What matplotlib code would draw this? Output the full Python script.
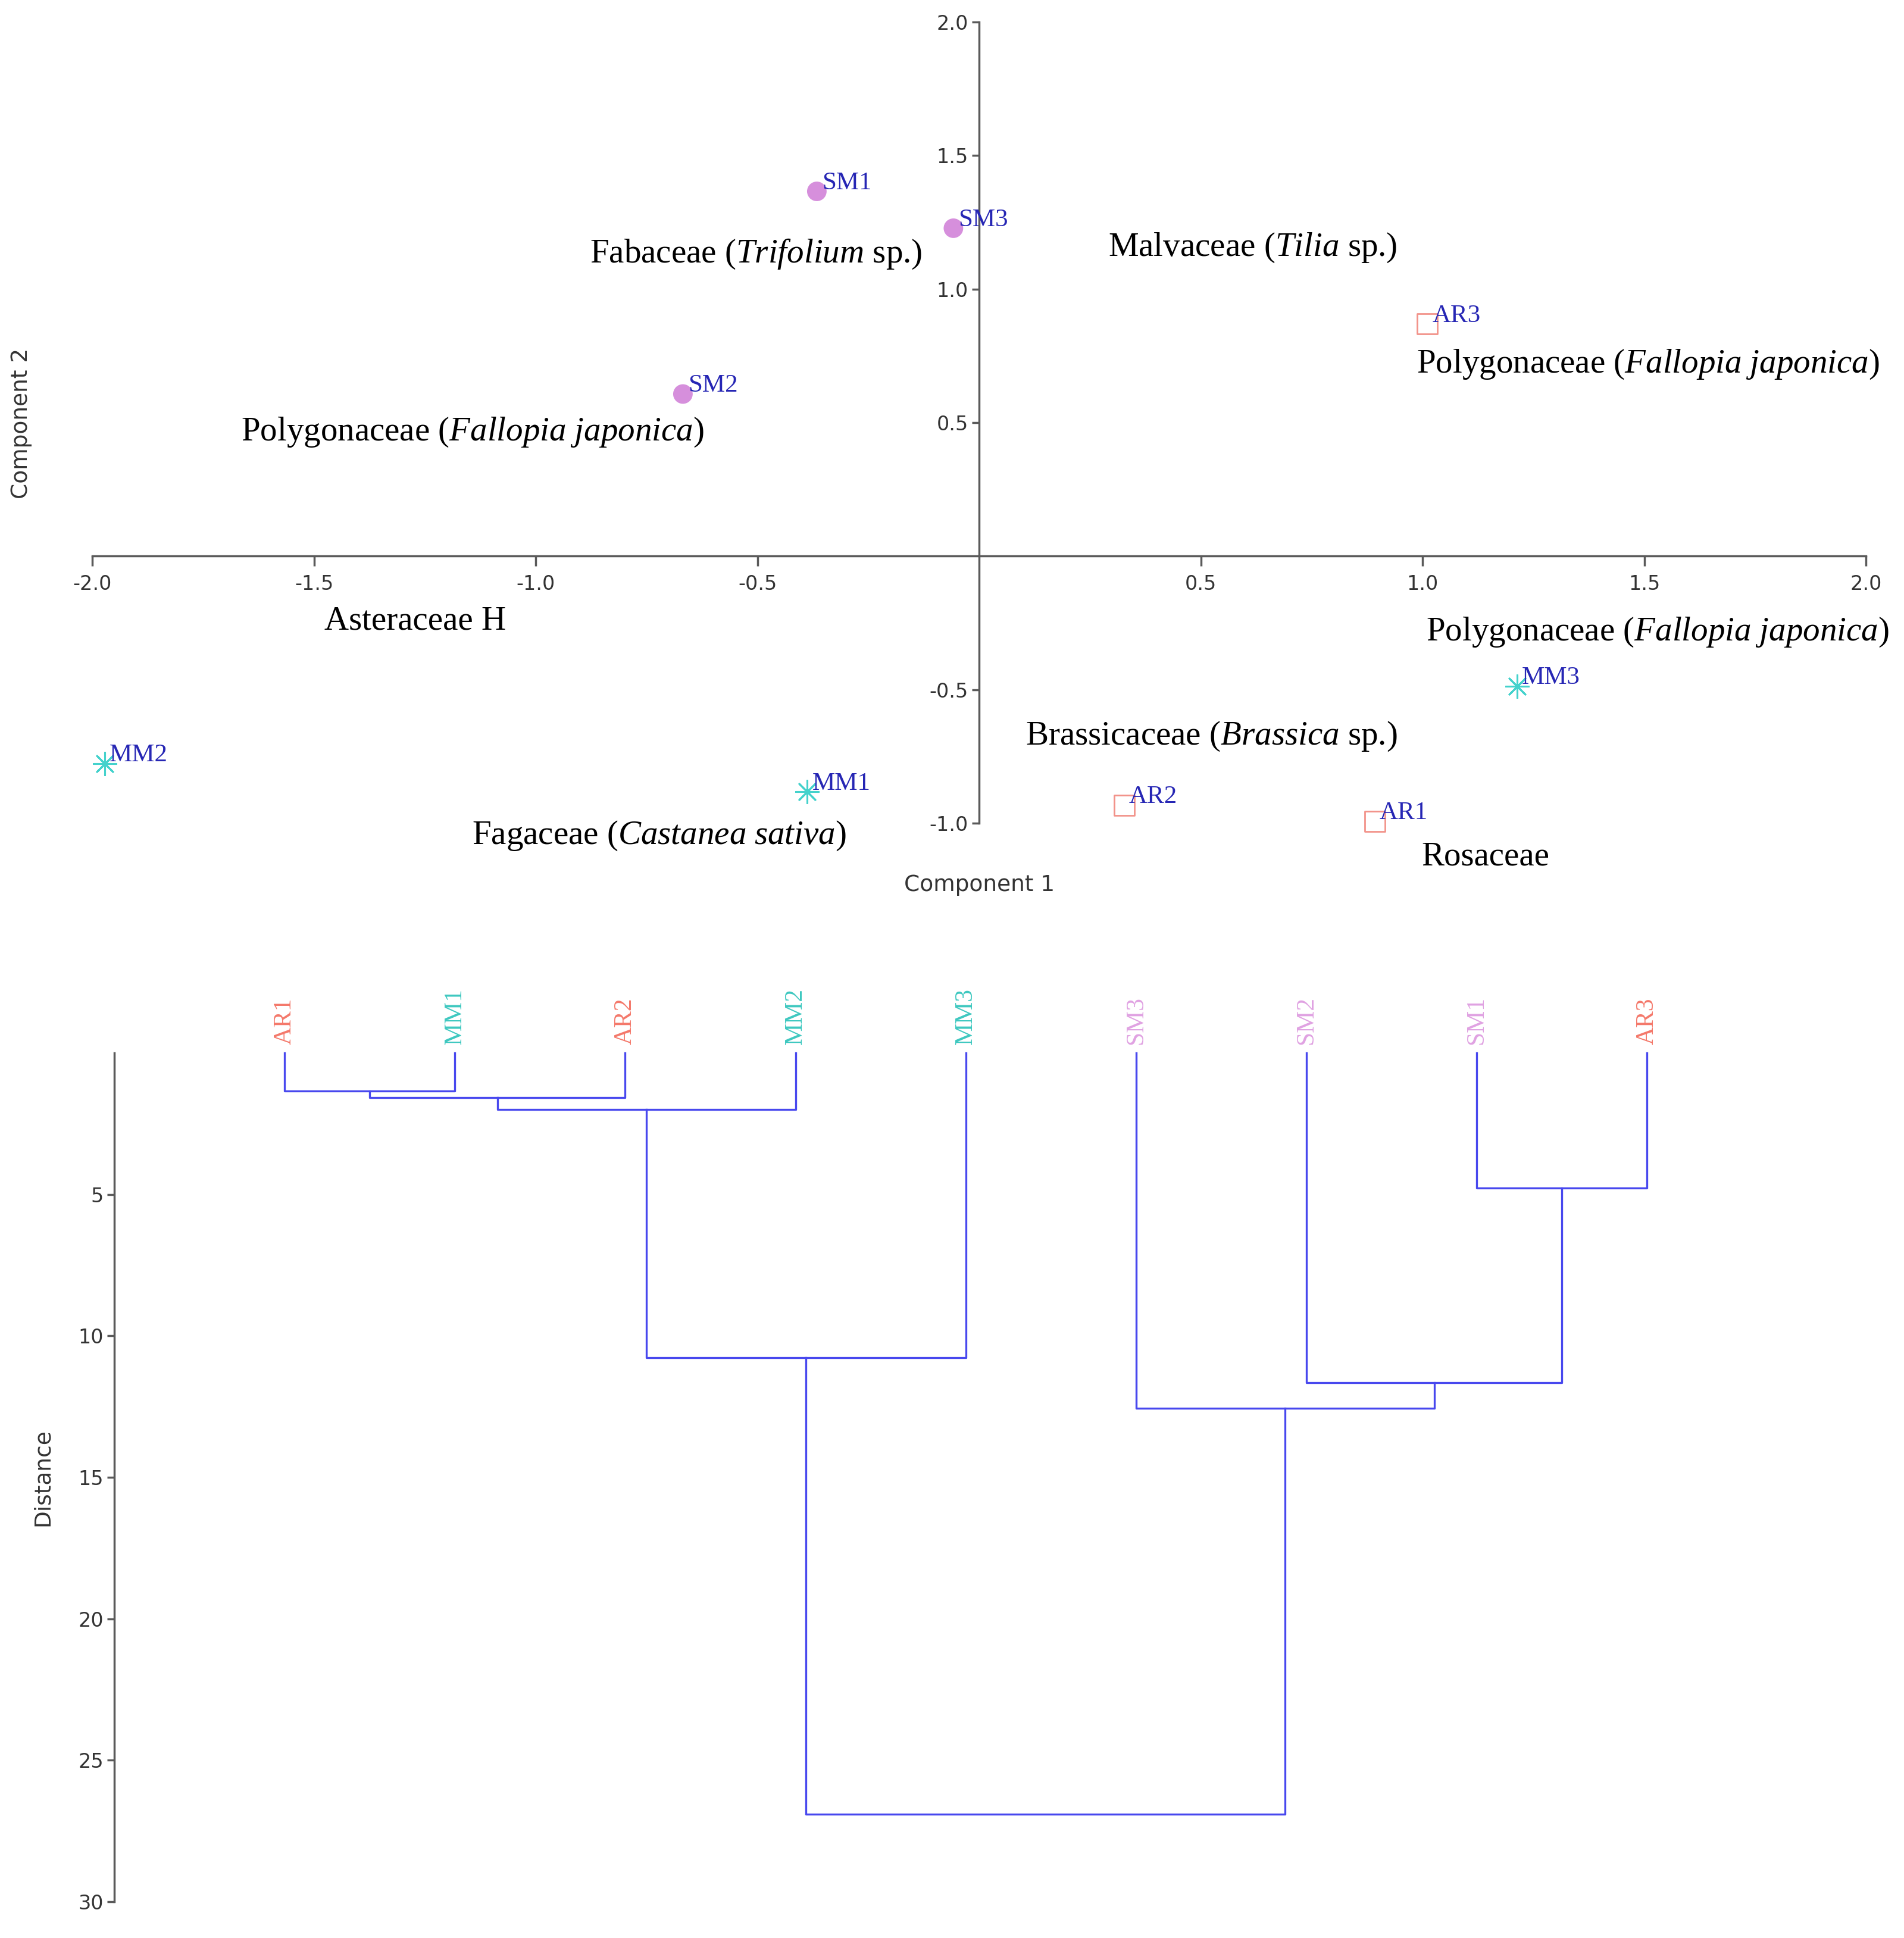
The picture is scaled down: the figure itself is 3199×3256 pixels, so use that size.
import numpy as np
import matplotlib
matplotlib.use("Agg")
import matplotlib.pyplot as plt

plt.rcParams['mathtext.fontset'] = 'custom'
plt.rcParams['mathtext.rm'] = 'Liberation Serif'
plt.rcParams['mathtext.it'] = 'Liberation Serif:italic'
plt.rcParams['axes.unicode_minus'] = False

# PCA scores
sm_names = ["SM1", "SM2", "SM3"]
sm_x = [-0.366, -0.668, -0.058]
sm_y = [1.366, 0.607, 1.228]

ar_names = ["AR1", "AR2", "AR3"]
ar_x = [0.892, 0.327, 1.011]
ar_y = [-0.993, -0.933, 0.869]

mm_names = ["MM1", "MM2", "MM3"]
mm_x = [-0.388, -1.972, 1.213]
mm_y = [-0.883, -0.777, -0.487]

fam_labels = [
    r"Fabaceae ($\mathit{Trifolium}$ sp.)",
    r"Malvaceae ($\mathit{Tilia}$ sp.)",
    r"Polygonaceae ($\mathit{Fallopia\ japonica}$)",
    r"Polygonaceae ($\mathit{Fallopia\ japonica}$)",
    "Asteraceae H",
    r"Polygonaceae ($\mathit{Fallopia\ japonica}$)",
    r"Brassicaceae ($\mathit{Brassica}$ sp.)",
    r"Fagaceae ($\mathit{Castanea\ sativa}$)",
    "Rosaceae",
]

x_ticks = [-2.0, -1.5, -1.0, -0.5, 0.5, 1.0, 1.5, 2.0]
y_ticks = [-1.0, -0.5, 0.5, 1.0, 1.5, 2.0]

# dendrogram
leaf_names = ["AR1", "MM1", "AR2", "MM2", "MM3", "SM3", "SM2", "SM1", "AR3"]
# merges: (child a, child b, distance); new nodes numbered from 9
merge_a = [0, 9, 10, 11, 7, 6, 5, 12]
merge_b = [1, 2, 3, 4, 8, 13, 14, 15]
merge_h = [1.35, 1.57, 2.0, 10.78, 4.78, 11.65, 12.57, 26.9]
dist_ticks = [5, 10, 15, 20, 25, 30]

c_sm = "#d68fdc"
c_ar = "#f2938a"
c_mm = "#44d2cc"
c_lab = "#2626b4"
c_axis = "#5a5a5a"
grp_col = {"AR": "#f4786a", "MM": "#3ec8c0", "SM": "#e0a2e2"}

fig = plt.figure(figsize=(31.99, 32.56), dpi=100)

# ---- PCA plot ----
ax = fig.add_axes([0.04845, 0.5753, 0.9316, 0.4133])
ax.set_xlim(-2, 2)
ax.set_ylim(-1, 2)
for s in ["top", "right"]:
    ax.spines[s].set_visible(False)
ax.spines["left"].set_position(("data", 0))
ax.spines["bottom"].set_position(("data", 0))
for s in ["left", "bottom"]:
    ax.spines[s].set_color(c_axis)
    ax.spines[s].set_linewidth(2.5)
ax.set_xticks(x_ticks)
ax.set_xticklabels(["%.1f" % v for v in x_ticks])
ax.set_yticks(y_ticks)
ax.set_yticklabels(["%.1f" % v for v in y_ticks])
ax.tick_params(axis="x", length=12, width=2.5, color=c_axis, pad=10)
ax.tick_params(axis="y", length=9, width=2.5, color=c_axis, pad=4)
for t in ax.get_xticklabels() + ax.get_yticklabels():
    t.set_family("DejaVu Sans")
    t.set_fontsize(24)
    t.set_color("#333333")

ax.scatter(sm_x, sm_y, s=560, marker="o", color=c_sm, edgecolors="none", clip_on=False, zorder=3)
ax.scatter(ar_x, ar_y, s=600, marker="s", facecolors="none", edgecolors=c_ar, linewidths=2.0, clip_on=False, zorder=3)
ax.scatter(mm_x, mm_y, s=750, marker=(8, 2, 0), color=c_mm, linewidths=2.2, clip_on=False, zorder=3)

for names, xs, ys in [(sm_names, sm_x, sm_y), (ar_names, ar_x, ar_y), (mm_names, mm_x, mm_y)]:
    for n, x, y in zip(names, xs, ys):
        ax.annotate(n, (x, y), xytext=(6, 10), textcoords="offset points",
                    ha="left", va="center", fontsize=31, color=c_lab,
                    family="Liberation Serif", annotation_clip=False)

fam_pos = [(-0.878, 1.131), (0.291, 1.154), (0.986, 0.717), (-1.665, 0.464),
           (-1.476, -0.244), (1.008, -0.285), (0.105, -0.676), (-1.144, -1.048),
           (0.997, -1.126)]
for lab, (x, y) in zip(fam_labels, fam_pos):
    ax.text(x, y, lab, ha="left", va="center", fontsize=41,
            family="Liberation Serif", color="black", clip_on=False)

ax.text(0, -1.232, "Component 1", ha="center", va="center", fontsize=27,
        family="DejaVu Sans", color="#333333")
ax.text(-2.16, 0.497, "Component 2", ha="center", va="center", rotation=90,
        fontsize=27, family="DejaVu Sans", color="#333333")

# ---- dendrogram ----
ax2 = fig.add_axes([0.0600, 0.01873, 0.8945, 0.438])
ax2.set_xlim(-1, 9)
ax2.set_ylim(30, 0)
for s in ["top", "right", "bottom"]:
    ax2.spines[s].set_visible(False)
ax2.spines["left"].set_color(c_axis)
ax2.spines["left"].set_linewidth(2.5)
ax2.set_xticks([])
ax2.set_yticks(dist_ticks)
ax2.tick_params(axis="y", length=9, width=2.5, color=c_axis, labelsize=24,
                labelcolor="#333333", pad=4)

pos = {i: float(i) for i in range(len(leaf_names))}
hgt = {i: 0.0 for i in range(len(leaf_names))}
node = len(leaf_names)
for a, b, h in zip(merge_a, merge_b, merge_h):
    xa, xb = pos[a], pos[b]
    ax2.plot([xa, xa, xb, xb], [hgt[a], h, h, hgt[b]], color="#4848ee",
             linewidth=2.4, clip_on=False)
    pos[node] = (xa + xb) / 2
    hgt[node] = h
    node += 1

for i, n in enumerate(leaf_names):
    ax2.text(i, -0.3, n, rotation=90, ha="center", va="bottom", fontsize=30,
             family="Liberation Serif", color=grp_col[n[:2]], clip_on=False)

ax2.text(-1.42, 15, "Distance", rotation=90, ha="center", va="center", fontsize=27,
         family="DejaVu Sans", color="#333333")

fig.savefig("out.png", dpi=100, facecolor="white")
